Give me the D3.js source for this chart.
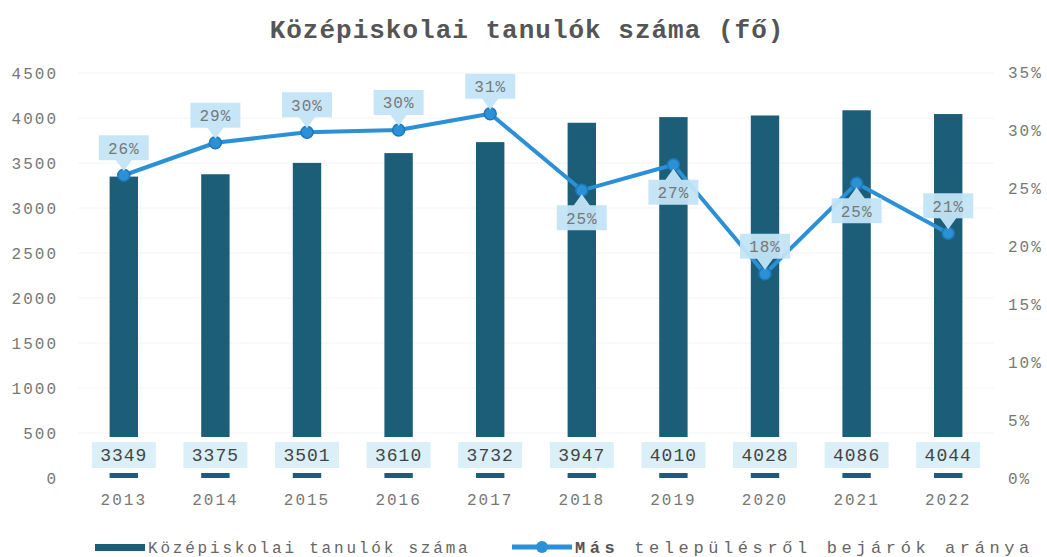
<!DOCTYPE html>
<html>
  <head>
    <meta charset="UTF-8">
    <style>
      body {
        margin: 0;
        background: white;
        font-family: 'Liberation Mono', 'DejaVu Sans Mono', monospace;
      }

      .tick text {
        fill: #777;
        font-size: 16px;
        letter-spacing: 2px;
        font-family: 'Liberation Mono', monospace;
      }

      .title {
        font-weight: bold;
        font-size: 26px;
        fill: #555;
        letter-spacing: 1px;
      }
    </style>
    <script src="https://d3js.org/d3.v7.min.js"></script>
  </head>

  <body>
    <svg id="chart"></svg>

    <script type="text/javascript">
      let years = ['2013', '2014', '2015', '2016', '2017', '2018', '2019', '2020', '2021', '2022']
      let students = [3349, 3375, 3501, 3610, 3732, 3947, 4010, 4028, 4086, 4044]
      let commuterShare = [0.261, 0.289, 0.298, 0.300, 0.314, 0.248, 0.270, 0.176, 0.254, 0.211]
      // where the callout sits relative to the point
      let calloutSide = ['up', 'up', 'up', 'up', 'up', 'down', 'down', 'up', 'down', 'up']
      let leftTicks = [0, 500, 1000, 1500, 2000, 2500, 3000, 3500, 4000, 4500]
      let rightTicks = [0, 0.05, 0.10, 0.15, 0.20, 0.25, 0.30, 0.35]

      let barColor = '#1c5e78'
      let lineColor = '#2b90d6'
      let boxColor = '#c3e5f7'

      let width = 1047
      let height = 557
      let margin = {top: 73, bottom: 79, left: 78, right: 53}

      let svg = d3.select('#chart')
        .attr('width', width)
        .attr('height', height)

      let x = d3.scaleBand()
        .domain(years)
        .range([margin.left, width - margin.right])
        .paddingInner(0.69)
        .paddingOuter(0.345)

      let y = d3.scaleLinear()
        .domain([0, 4500])
        .range([height - margin.bottom, margin.top])

      let yRight = d3.scaleLinear()
        .domain([0, 0.35])
        .range([height - margin.bottom, margin.top - 1])

      let cx = d => x(d) + x.bandwidth() / 2

      svg.append('text')
        .attr('class', 'title')
        .attr('x', 527)
        .attr('y', 38)
        .attr('text-anchor', 'middle')
        .text('Középiskolai tanulók száma (fő)')

      // faint grid
      svg.append('g')
        .selectAll('line')
        .data(leftTicks.slice(1))
        .join('line')
        .attr('x1', margin.left)
        .attr('x2', width - margin.right)
        .attr('y1', d => y(d))
        .attr('y2', d => y(d))
        .attr('stroke', '#f4f4f4')

      // axes
      let axisLeft = d3.axisLeft(y).tickValues(leftTicks).tickSize(0).tickPadding(20)
        .tickFormat(d3.format('d'))
      svg.append('g')
        .attr('transform', `translate(${margin.left},0)`)
        .call(axisLeft)
        .call(g => g.select('.domain').remove())

      let axisRight = d3.axisRight(yRight).tickValues(rightTicks).tickSize(0).tickPadding(14)
        .tickFormat(d3.format('.0%'))
      svg.append('g')
        .attr('transform', `translate(${width - margin.right},0)`)
        .call(axisRight)
        .call(g => g.select('.domain').remove())

      let axisBottom = d3.axisBottom(x).tickSize(0).tickPadding(16)
      svg.append('g')
        .attr('transform', `translate(0,${height - margin.bottom})`)
        .call(axisBottom)
        .call(g => g.select('.domain').remove())

      // bars
      svg.append('g')
        .selectAll('rect')
        .data(years)
        .join('rect')
        .attr('x', d => x(d))
        .attr('y', (d, i) => y(students[i]))
        .attr('width', x.bandwidth())
        .attr('height', (d, i) => y(0) - y(students[i]))
        .attr('fill', barColor)

      // value boxes on bars
      let valueBoxes = svg.append('g')
        .selectAll('g')
        .data(years)
        .join('g')
        .attr('transform', d => `translate(${cx(d)},455)`)

      valueBoxes.append('rect')
        .attr('x', -36).attr('y', -18)
        .attr('width', 72).attr('height', 36)
        .attr('fill', 'white')

      valueBoxes.append('rect')
        .attr('x', -32).attr('y', -13)
        .attr('width', 64).attr('height', 26)
        .attr('fill', '#dbeff9')

      valueBoxes.append('text')
        .attr('text-anchor', 'middle')
        .attr('dy', '0.36em')
        .attr('fill', '#444')
        .style('font-size', '18px')
        .style('letter-spacing', '1px')
        .text((d, i) => students[i])

      // line
      let line = d3.line()
        .x(d => cx(d))
        .y((d, i) => yRight(commuterShare[i]))

      svg.append('path')
        .datum(years)
        .attr('d', line)
        .attr('fill', 'none')
        .attr('stroke', lineColor)
        .attr('stroke-width', 4)
        .attr('stroke-linejoin', 'round')

      svg.append('g')
        .selectAll('circle')
        .data(years)
        .join('circle')
        .attr('cx', d => cx(d))
        .attr('cy', (d, i) => yRight(commuterShare[i]))
        .attr('r', 6)
        .attr('fill', lineColor)
        .attr('stroke', '#1e78b8')
        .attr('stroke-width', 1.5)

      // callouts
      let boxW = 50, boxH = 25, gap = 15
      let callouts = svg.append('g')
        .selectAll('g')
        .data(years)
        .join('g')
        .attr('transform', (d, i) => `translate(${cx(d)},${yRight(commuterShare[i])})`)

      callouts.append('path')
        .attr('d', (d, i) => {
          let s = calloutSide[i] === 'up' ? -1 : 1
          let near = s * gap
          let far = s * (gap + boxH)
          return `M${-boxW/2},${near} L-8,${near} L0,${s * 4} L8,${near} L${boxW/2},${near} L${boxW/2},${far} L${-boxW/2},${far} Z`
        })
        .attr('fill', boxColor)
        .attr('opacity', 0.95)

      callouts.append('text')
        .attr('text-anchor', 'middle')
        .attr('y', (d, i) => calloutSide[i] === 'up' ? -gap - boxH / 2 : gap + boxH / 2)
        .attr('dy', '0.36em')
        .attr('fill', '#777')
        .style('font-size', '16px')
        .style('letter-spacing', '1px')
        .text((d, i) => Math.round(commuterShare[i] * 100) + '%')

      // legend
      let legend = svg.append('g')
      legend.append('rect')
        .attr('x', 95).attr('y', 544)
        .attr('width', 50).attr('height', 7)
        .attr('fill', barColor)
      legend.append('text')
        .attr('x', 148).attr('y', 553)
        .attr('fill', '#666')
        .style('font-size', '16px')
        .style('letter-spacing', '2.8px')
        .text('Középiskolai tanulók száma')

      legend.append('line')
        .attr('x1', 512).attr('x2', 572)
        .attr('y1', 547).attr('y2', 547)
        .attr('stroke', lineColor)
        .attr('stroke-width', 5)
      legend.append('circle')
        .attr('cx', 542).attr('cy', 547).attr('r', 6)
        .attr('fill', lineColor)
      let lt = legend.append('text')
        .attr('x', 575).attr('y', 553)
        .attr('fill', '#666')
        .style('font-size', '17px')
        .style('letter-spacing', '4.6px')
      lt.append('tspan').attr('font-weight', 'bold').attr('fill', '#555').text('Más')
      lt.append('tspan').text(' településről bejárók aránya')
    </script>
  </body>
</html>
